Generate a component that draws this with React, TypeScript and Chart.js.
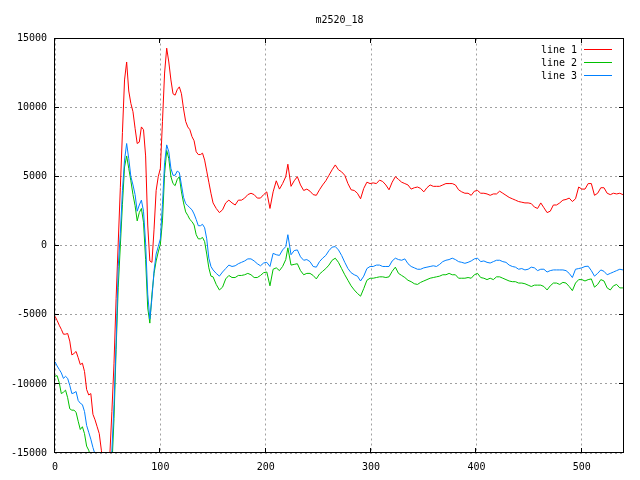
import React, { useEffect, useRef } from "react";
import { Chart, registerables } from "chart.js";

Chart.register(...registerables);

const TITLE = "m2520_18";
const seriesNames = ["line 1", "line 2", "line 3"];
const seriesColors = ["#ff0000", "#00c000", "#0080ff"];
const xTicks = [0, 100, 200, 300, 400, 500];
const yTicks = [-15000, -10000, -5000, 0, 5000, 10000, 15000];

const xs = [
  0, 2, 4, 6, 8, 10, 12, 14, 16, 18,
  20, 22, 24, 26, 28, 30, 32, 34, 36, 38,
  40, 42, 44, 46, 48, 50, 52, 54, 56, 58,
  60, 62, 64, 66, 68, 70, 72, 74, 76, 78,
  80, 82, 84, 86, 88, 90, 92, 94, 96, 98,
  100, 102, 104, 106, 108, 110, 112, 114, 116, 118,
  120, 122, 124, 126, 128, 130, 132, 134, 136, 138,
  140, 142, 144, 146, 148, 150,
  153, 156, 159, 162, 165, 168, 171, 174, 177, 180,
  183, 186, 189, 192, 195, 198, 201, 204, 207, 210,
  213, 216, 219, 221, 224, 227, 230, 233, 236, 239,
  242, 245, 248, 251, 254, 257, 260, 263, 266, 269,
  272, 275, 278, 281, 284, 287, 290, 293, 296, 299,
  302, 305, 308, 311, 314, 317, 320, 323, 326, 329,
  332, 335, 338, 341, 344, 347, 350, 353, 356, 359,
  362, 365, 368, 371, 374, 377, 380, 383, 386, 389,
  392, 395, 398, 401, 404, 407, 410, 413, 416, 419,
  422, 425, 428, 431, 434, 437, 440, 443, 446, 449,
  452, 455, 458, 461, 464, 467, 470, 473, 476, 479,
  482, 485, 488, 491, 494, 497, 500, 503, 506, 509,
  512, 515, 518, 521, 524, 527, 530, 533, 536, 539,
];

const line1 = [
  -5100, -5400, -5750, -6050, -6400, -6400, -6350, -6900, -7900, -7800,
  -7650, -8100, -8600, -8500, -9100, -10400, -10800, -10700, -12200, -12600,
  -13100, -13600, -14800, -16000, -16500, -16500, -15200, -12000, -8500, -3800,
  200, 4200, 8200, 12000, 13300, 11200, 10300, 9700, 8500, 7400,
  7500, 8600, 8400, 6500, 1500, -1100, -1200, 1200, 4000, 5000,
  5600, 9000, 12500, 14300, 13300, 12000, 11000, 10900, 11300, 11500,
  11000, 9900, 9000, 8600, 8400, 7900, 7600, 6800, 6600, 6600,
  6700, 6200, 5400, 4600, 3800, 3100,
  2700, 2400, 2600, 3100, 3300, 3100, 2950, 3300, 3300, 3450,
  3700, 3800, 3700, 3450, 3450, 3700, 3900, 2700, 3900, 4700,
  4100, 4500, 5000, 5900, 4300, 4700, 5000, 4400, 4000, 4100,
  3950, 3700, 3650, 4050, 4400, 4700, 5100, 5500, 5850, 5500,
  5350, 5100, 4500, 4050, 4000, 3800, 3400, 4150, 4600, 4500,
  4550, 4500, 4750, 4650, 4400, 4050, 4600, 5000, 4800, 4600,
  4500, 4400, 4100, 4200, 4250, 4150, 3900, 4200, 4400, 4300,
  4300, 4300, 4400, 4500, 4500, 4500, 4400, 4050, 3900, 3800,
  3800, 3650, 3950, 4000, 3800, 3800, 3750, 3650, 3750, 3750,
  3950, 3800, 3650, 3500, 3400, 3300, 3200, 3150, 3100, 3100,
  3050, 2800, 2700, 3100, 2750, 2400, 2500, 2950, 2950, 3100,
  3300, 3350, 3450, 3200, 3400, 4250, 4100, 4100, 4500, 4500,
  3650, 3800, 4200, 4200, 3800, 3700, 3800, 3750, 3800, 3700,
];

const line2 = [
  -9450, -9400, -9900, -10700, -10600, -10450, -11000, -11800, -11900, -11900,
  -12050, -12700, -13300, -13100, -13600, -14500, -14800, -15300, -16000, -17000,
  -17500, -17500, -17500, -17500, -17500, -17500, -17000, -16000, -12500, -7500,
  -3000, 0, 3000, 5700, 6500, 5600, 4700, 3700, 2900, 1800,
  2400, 2700, 1700, -1000, -4500, -5600, -3500, -2000, -1100, -450,
  100, 1800, 5200, 6900, 6300, 5000, 4500, 4350, 4800, 5000,
  3900, 3100, 2450, 2200, 1900, 1750, 1500, 800, 500, 500,
  600, 300, -600, -1600, -2200, -2250,
  -2800, -3200, -3000, -2400, -2150, -2300, -2300, -2150, -2150, -2100,
  -2000, -2100, -2300, -2300, -2150, -1950, -1900, -2900, -1700, -1600,
  -1800, -1500, -1000, -150, -1400, -1350, -1300, -1800, -2100, -2000,
  -2000, -2150, -2400, -2050, -1850, -1650, -1400, -1050, -900, -1200,
  -1650, -2100, -2500, -2900, -3200, -3450, -3650, -3100, -2500, -2350,
  -2350, -2300, -2250, -2250, -2300, -2250, -1850, -1550, -2000, -2150,
  -2300, -2500, -2600, -2750, -2800, -2650, -2550, -2450, -2350, -2300,
  -2250, -2200, -2100, -2100, -2000, -2100, -2100, -2350, -2350, -2350,
  -2300, -2350, -2100, -2000, -2300, -2350, -2450, -2350, -2450, -2250,
  -2250, -2350, -2450, -2550, -2600, -2600, -2700, -2700, -2750, -2850,
  -2950, -2850, -2850, -2850, -2950, -3200, -2900, -2700, -2700, -2800,
  -2650, -2700, -2950, -3250, -2700, -2450, -2450, -2550, -2450, -2400,
  -3000, -2800, -2450, -2550, -3050, -3200, -2900, -2800, -3050, -3050,
];

const line3 = [
  -8400, -8700, -8950, -9200, -9600, -9450, -9600, -10100, -10700, -10650,
  -10550, -11200, -11400, -11500, -12000, -13000, -13500, -14000, -14600, -15100,
  -16000, -16500, -17000, -17000, -17000, -17000, -16500, -14800, -11500, -7000,
  -1500, 900, 4000, 6200, 7400, 6300, 5000, 4400, 3700, 2500,
  2950, 3300, 2500, 200, -3500, -5300, -3800, -1800, -600, -60,
  500, 3000, 6000, 7300, 6800, 5600, 5100, 5100, 5400, 5300,
  4400, 3500, 3050, 2900, 2750, 2600, 2300, 1900, 1450, 1450,
  1550, 1300, 500, -900, -1500, -1750,
  -2000, -2200, -1900, -1650, -1400, -1500, -1450, -1300, -1200, -1100,
  -950, -950, -1100, -1300, -1450, -1250, -1200, -1500, -550, -650,
  -700, -300, -60, 800, -650, -350, -300, -800, -1050, -1000,
  -1150, -1500, -1550, -1150, -900, -700, -350, -100, -60, -300,
  -700, -1200, -1650, -1950, -2100, -2200, -2550, -2200, -1650, -1500,
  -1500, -1400, -1400, -1500, -1500, -1500, -1100, -900, -1000, -1050,
  -950, -1300, -1500, -1600, -1700, -1700, -1600, -1550, -1500, -1450,
  -1500, -1350, -1150, -1050, -1000, -900, -1000, -1150, -1200, -1270,
  -1200, -1100, -950, -900, -1150, -1100, -1200, -1250, -1150, -1050,
  -1050, -1150, -1200, -1400, -1500, -1550, -1700, -1650, -1750, -1700,
  -1550, -1600, -1800, -1700, -1700, -1900, -1800, -1750, -1750, -1750,
  -1750, -1800, -2000, -2300, -1700, -1650, -1600, -1500, -1480, -1800,
  -2200, -2000, -1750, -1850, -2100, -2000, -1900, -1800, -1700, -1750,
];

const FONT_FAMILY = "'DejaVu Sans Mono', monospace";

const gnuplotFrame = {
  id: "gnuplotFrame",
  afterDraw(chart: any) {
    const { ctx, chartArea } = chart;
    const { left, right, top, bottom } = chartArea;
    const xs_ = chart.scales.x;
    const ys_ = chart.scales.y;
    ctx.save();
    ctx.setLineDash([]);
    ctx.fillStyle = "#000000";
    const L = Math.round(left) - 1;
    const R = Math.round(right) - 1;
    const T = Math.round(top) - 1;
    const B = Math.round(bottom) - 1;
    // border
    ctx.fillRect(L, T, R - L + 1, 1);
    ctx.fillRect(L, B, R - L + 1, 1);
    ctx.fillRect(L, T, 1, B - T + 1);
    ctx.fillRect(R, T, 1, B - T + 1);
    // tics (inward, mirrored)
    const tic = 5;
    yTicks.forEach((v) => {
      const py = Math.round(ys_.getPixelForValue(v)) - 1;
      ctx.fillRect(L, py, tic, 1);
      ctx.fillRect(R - tic + 1, py, tic, 1);
    });
    xTicks.forEach((v) => {
      const px = Math.round(xs_.getPixelForValue(v)) - 1;
      ctx.fillRect(px, B - tic + 1, 1, tic);
      ctx.fillRect(px, T, 1, tic);
    });

    // key (legend), top right inside the plot
    ctx.font = `10px ${FONT_FAMILY}`;
    ctx.textAlign = "right";
    ctx.textBaseline = "middle";
    [0, 1, 2].forEach((i) => {
      const rowY = Math.round(top + 10 + i * 13);
      ctx.fillStyle = seriesColors[i];
      ctx.fillRect(Math.round(right) - 40, rowY, 28, 1);
      ctx.fillStyle = "#000000";
      ctx.fillText(seriesNames[i], Math.round(right) - 47, rowY + 1);
    });
    ctx.restore();
  },
};

export default function App() {
  const canvasRef = useRef<HTMLCanvasElement | null>(null);

  useEffect(() => {
    const canvas = canvasRef.current;
    if (!canvas) return;
    const chart = new Chart(canvas, {
      type: "line",
      data: {
        datasets: [
          {
            label: seriesNames[0],
            data: xs.map((x, k) => ({ x, y: line1[k] })),
            borderColor: seriesColors[0],
            backgroundColor: seriesColors[0],
            order: 3,
          },
          {
            label: seriesNames[1],
            data: xs.map((x, k) => ({ x, y: line2[k] })),
            borderColor: seriesColors[1],
            backgroundColor: seriesColors[1],
            order: 2,
          },
          {
            label: seriesNames[2],
            data: xs.map((x, k) => ({ x, y: line3[k] })),
            borderColor: seriesColors[2],
            backgroundColor: seriesColors[2],
            order: 1,
          },
        ],
      },
      options: {
        animation: false,
        responsive: false,
        maintainAspectRatio: false,
        elements: {
          line: { borderWidth: 1, tension: 0, fill: false },
          point: { radius: 0 },
        },
        layout: { padding: { left: 0, right: 16, top: 0, bottom: 0 } },
        plugins: {
          legend: { display: false },
          tooltip: { enabled: false },
          title: {
            display: true,
            text: TITLE,
            fullSize: false,
            color: "#000000",
            font: { family: FONT_FAMILY, size: 10, weight: "normal", lineHeight: 1.2 },
            padding: { top: 14, bottom: 12.5 },
          },
        },
        scales: {
          x: {
            type: "linear",
            min: 0,
            max: 540,
            afterFit: (s: any) => {
              s.height = 27;
            },
            afterBuildTicks: (s: any) => {
              s.ticks = xTicks.map((v) => ({ value: v }));
            },
            ticks: {
              includeBounds: false,
              color: "#000000",
              font: { family: FONT_FAMILY, size: 10 },
              padding: 8,
              maxRotation: 0,
              callback: (v: any) => String(v),
            },
            grid: {
              color: "#a0a0a0",
              lineWidth: 1,
              drawTicks: false,
            },
            border: { display: false, dash: [2, 3] },
          },
          y: {
            type: "linear",
            min: -15000,
            max: 15000,
            afterFit: (s: any) => {
              s.width = 55;
            },
            afterBuildTicks: (s: any) => {
              s.ticks = yTicks.map((v) => ({ value: v }));
            },
            ticks: {
              includeBounds: false,
              color: "#000000",
              font: { family: FONT_FAMILY, size: 10 },
              padding: 8,
              callback: (v: any) => String(v),
            },
            grid: {
              color: "#a0a0a0",
              lineWidth: 1,
              drawTicks: false,
            },
            border: { display: false, dash: [2, 3] },
          },
        },
      },
      plugins: [gnuplotFrame],
    });
    return () => chart.destroy();
  }, []);

  return (
    <div style={{ position: "fixed", left: 0, top: 0, width: 640, height: 480, background: "#ffffff" }}>
      <canvas ref={canvasRef} width={640} height={480} style={{ display: "block" }} />
    </div>
  );
}
